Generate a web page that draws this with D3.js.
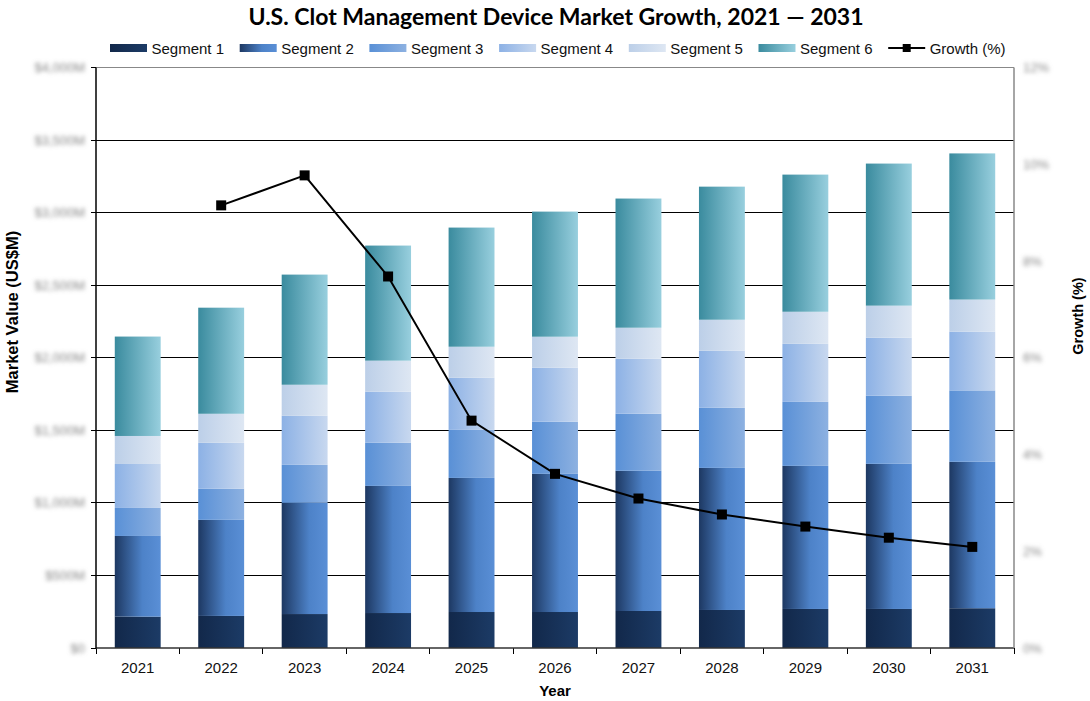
<!DOCTYPE html>
<html>
<head>
<meta charset="utf-8">
<script src="https://cdn.jsdelivr.net/npm/d3@7"></script>
<style>
  body { margin: 0; background: #fff; }
  svg { font-family: "Liberation Sans", Arial, sans-serif; }
</style>
</head>
<body>
<div id="chart"></div>
<script>
const years = ["2021", "2022", "2023", "2024", "2025", "2026", "2027", "2028", "2029", "2030", "2031"];
const segmentNames = ["Segment 1", "Segment 2", "Segment 3", "Segment 4", "Segment 5", "Segment 6"];

// US$M per segment
const segment1 = [216, 221, 234, 241, 248, 248, 255, 262, 269, 269, 274];
const segment2 = [556, 662, 766, 876, 924, 952, 966, 979, 986, 1000, 1009];
const segment3 = [193, 214, 262, 297, 331, 359, 393, 414, 441, 469, 492];
const segment4 = [303, 317, 338, 352, 359, 372, 379, 393, 400, 400, 405];
const segment5 = [193, 200, 214, 214, 214, 214, 214, 214, 221, 221, 221];
const segment6 = [685, 731, 759, 793, 821, 862, 890, 917, 945, 979, 1007];

// growth (%) - no value for the first year
const growth = [null, 9.15, 9.77, 7.68, 4.70, 3.60, 3.09, 2.76, 2.51, 2.28, 2.09];

const leftTicks = [0, 500, 1000, 1500, 2000, 2500, 3000, 3500, 4000];
const leftTickLabels = ["$0", "$500M", "$1,000M", "$1,500M", "$2,000M", "$2,500M", "$3,000M", "$3,500M", "$4,000M"];
const rightTicks = [0, 2, 4, 6, 8, 10, 12];
const rightTickLabels = ["0%", "2%", "4%", "6%", "8%", "10%", "12%"];

const gradients = [
  [["0%", "#12284a"], ["100%", "#1c3b66"]],
  [["0%", "#1d3862"], ["60%", "#4d82c8"], ["100%", "#5a8fd6"]],
  [["0%", "#5990d6"], ["100%", "#8db1e1"]],
  [["0%", "#8cb1e5"], ["100%", "#c8d8ef"]],
  [["0%", "#bccfe8"], ["100%", "#dee7f3"]],
  [["0%", "#3a8b9e"], ["100%", "#98cfde"]]
];

const W = 1090, H = 701;
const margin = { top: 67.5, right: 76, bottom: 53, left: 96 };
const width = W - margin.left - margin.right;
const height = H - margin.top - margin.bottom;

const svg = d3.select("#chart").append("svg")
  .attr("width", W)
  .attr("height", H);

const defs = svg.append("defs");
gradients.forEach((stops, i) => {
  const g = defs.append("linearGradient")
    .attr("id", "grad" + i)
    .attr("x1", "0%").attr("x2", "100%").attr("y1", "0%").attr("y2", "0%");
  stops.forEach(s => g.append("stop").attr("offset", s[0]).attr("stop-color", s[1]));
});
defs.append("filter").attr("id", "blur")
  .attr("filterUnits", "userSpaceOnUse")
  .attr("x", -200).attr("y", -50).attr("width", 1400).attr("height", 800)
  .append("feGaussianBlur").attr("stdDeviation", 2.2);

const g = svg.append("g").attr("transform", `translate(${margin.left},${margin.top})`);

const x = d3.scaleBand().domain(years).range([0, width]).paddingInner(0.45).paddingOuter(0.225);
const y = d3.scaleLinear().domain([0, 4000]).range([height, 0]);
const y2 = d3.scaleLinear().domain([0, 12]).range([height, 0]);

// gridlines
g.append("g")
  .selectAll("line")
  .data(leftTicks.slice(1, -1))
  .join("line")
  .attr("x1", 0).attr("x2", width)
  .attr("y1", d => y(d)).attr("y2", d => y(d))
  .attr("stroke", "#000").attr("stroke-width", 1)
  .attr("shape-rendering", "crispEdges");

// plot border top
g.append("line").attr("x1", 0).attr("x2", width).attr("y1", 0).attr("y2", 0)
  .attr("stroke", "#888").attr("shape-rendering", "crispEdges");

// stacked bars
const seriesData = [segment1, segment2, segment3, segment4, segment5, segment6];
const table = years.map((yr, i) => {
  const row = { year: yr };
  segmentNames.forEach((s, k) => row[s] = seriesData[k][i]);
  return row;
});
const stacked = d3.stack().keys(segmentNames)(table);

g.append("g")
  .selectAll("g")
  .data(stacked)
  .join("g")
  .attr("fill", (d, i) => `url(#grad${i})`)
  .selectAll("rect")
  .data(d => d)
  .join("rect")
  .attr("x", d => x(d.data.year))
  .attr("width", x.bandwidth())
  .attr("y", d => y(d[1]))
  .attr("height", d => y(d[0]) - y(d[1]));

// x axis
const step = x.step();
const bounds = d3.range(years.length + 1).map(i => i * step);
g.append("g")
  .selectAll("line")
  .data(bounds)
  .join("line")
  .attr("x1", d => d).attr("x2", d => d)
  .attr("y1", height).attr("y2", height + 6)
  .attr("stroke", "#000")
  .attr("shape-rendering", "crispEdges");

g.append("line").attr("x1", 0).attr("x2", width).attr("y1", height).attr("y2", height)
  .attr("stroke", "#333").attr("stroke-width", 1.5);

g.append("g")
  .selectAll("text")
  .data(years)
  .join("text")
  .attr("x", d => x(d) + x.bandwidth() / 2)
  .attr("y", height + 25)
  .attr("text-anchor", "middle")
  .attr("font-size", 15)
  .attr("fill", "#111")
  .text(d => d);

// left axis
const leftAxis = g.append("g");
leftAxis.append("line").attr("x1", 0).attr("x2", 0).attr("y1", 0).attr("y2", height)
  .attr("stroke", "#000").attr("stroke-width", 1.5);
leftAxis.selectAll(".tick")
  .data(leftTicks)
  .join("line")
  .attr("x1", -5).attr("x2", 0)
  .attr("y1", d => y(d)).attr("y2", d => y(d))
  .attr("stroke", "#000")
  .attr("shape-rendering", "crispEdges");
leftAxis.append("g").attr("filter", "url(#blur)")
  .selectAll("text")
  .data(leftTicks)
  .join("text")
  .attr("x", -11)
  .attr("y", d => y(d))
  .attr("dy", "0.35em")
  .attr("text-anchor", "end")
  .attr("font-size", 13)
  .attr("fill", "#888")
  .text((d, i) => leftTickLabels[i]);

// right axis
const rightAxis = g.append("g").attr("transform", `translate(${width},0)`);
rightAxis.append("line").attr("x1", 0).attr("x2", 0).attr("y1", 0).attr("y2", height)
  .attr("stroke", "#888").attr("stroke-width", 1.5);
rightAxis.append("g").attr("filter", "url(#blur)")
  .selectAll("text")
  .data(rightTicks)
  .join("text")
  .attr("x", 9)
  .attr("y", d => y2(d))
  .attr("dy", "0.35em")
  .attr("text-anchor", "start")
  .attr("font-size", 13)
  .attr("fill", "#888")
  .text((d, i) => rightTickLabels[i]);

// growth line
const growthPts = years.map((yr, i) => ({ year: yr, v: growth[i] })).filter(d => d.v !== null);
const cx = d => x(d.year) + x.bandwidth() / 2;

g.append("path")
  .datum(growthPts)
  .attr("fill", "none")
  .attr("stroke", "#000")
  .attr("stroke-width", 2)
  .attr("d", d3.line().x(cx).y(d => y2(d.v)));

g.append("g")
  .selectAll("rect")
  .data(growthPts)
  .join("rect")
  .attr("x", d => cx(d) - 5)
  .attr("y", d => y2(d.v) - 5)
  .attr("width", 10).attr("height", 10)
  .attr("fill", "#000");

// titles
svg.append("text")
  .attr("x", 556).attr("y", 25)
  .attr("text-anchor", "middle")
  .style("font-family", "Lato, sans-serif")
  .attr("font-weight", "bold")
  .attr("font-size", 23)
  .attr("fill", "#000")
  .text("U.S. Clot Management Device Market Growth, 2021 \u2014 2031");

svg.append("text")
  .attr("transform", "translate(18,312) rotate(-90)")
  .attr("text-anchor", "middle")
  .attr("font-weight", "bold")
  .attr("font-size", 16.5)
  .text("Market Value (US$M)");

svg.append("text")
  .attr("transform", "translate(1083,316) rotate(-90)")
  .attr("text-anchor", "middle")
  .attr("font-weight", "bold")
  .attr("font-size", 14.5)
  .text("Growth (%)");

svg.append("text")
  .attr("x", margin.left + width / 2).attr("y", 696)
  .attr("text-anchor", "middle")
  .attr("font-weight", "bold")
  .attr("font-size", 15)
  .text("Year");

// legend
const legendItems = segmentNames.concat(["Growth (%)"]);
const legend = svg.append("g").attr("transform", "translate(110,44)");
const item = legend.selectAll("g")
  .data(legendItems)
  .join("g")
  .attr("transform", (d, i) => `translate(${i * 129.7},0)`);

item.filter((d, i) => i < 6)
  .append("rect")
  .attr("width", 37).attr("height", 8)
  .attr("fill", (d, i) => `url(#grad${i})`);

const lineItem = item.filter((d, i) => i === 6);
lineItem.append("line").attr("x1", 0).attr("x2", 37).attr("y1", 4).attr("y2", 4)
  .attr("stroke", "#000").attr("stroke-width", 2);
lineItem.append("rect").attr("x", 14.5).attr("y", 0).attr("width", 8).attr("height", 8).attr("fill", "#000");

item.append("text")
  .attr("x", 41.5).attr("y", 9.5)
  .attr("font-size", 15)
  .attr("fill", "#111")
  .text(d => d);
</script>
</body>
</html>
